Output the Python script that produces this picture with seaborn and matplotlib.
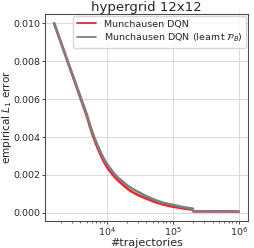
import numpy as np
import pandas as pd
import matplotlib
matplotlib.use("Agg")
import matplotlib.pyplot as plt
import seaborn as sns

title = "hypergrid 12x12"
xlabel = "#trajectories"
ylabel = r"empirical $L_1$ error"
series_names = ["Munchausen DQN", r"Munchausen DQN (learnt $\mathcal{P}_B$)"]
colors = ["#e8292c", "#7f7f7f"]

trajectories = [1600, 5000, 5600, 6200, 7000, 8000, 9000, 10000, 11250, 13000, 15000,
                18000, 21000, 25000, 30000, 40000, 50000, 60000, 75000, 95000,
                140000, 200000, 205000, 300000, 450000, 600000, 800000, 1000000]
err_red = [0.0100, 0.00510, 0.00452, 0.00405, 0.00357, 0.00309, 0.00272, 0.00243,
           0.00219, 0.00192, 0.00169, 0.00145, 0.00125, 0.00108, 0.00093, 0.00075,
           0.00061, 0.00052, 0.00042, 0.00034, 0.00024, 0.00017, 0.00008,
           0.000075, 0.00008, 0.000085, 0.000075, 0.00007]
err_gray = [0.0100, 0.00520, 0.00463, 0.00416, 0.00370, 0.00323, 0.00288, 0.00260,
            0.00236, 0.00207, 0.00184, 0.00161, 0.00142, 0.00125, 0.00110, 0.00088,
            0.00073, 0.00062, 0.00052, 0.00044, 0.00031, 0.00023, 0.00008,
            0.00008, 0.000075, 0.000075, 0.00007, 0.00007]

df = pd.DataFrame({
    "x": trajectories * 2,
    "err": err_red + err_gray,
    "method": [series_names[0]] * len(trajectories) + [series_names[1]] * len(trajectories),
})

sns.set_style("ticks", {"axes.grid": True, "grid.color": ".85", "axes.edgecolor": ".3"})
plt.rcParams["font.family"] = ["DejaVu Sans"]

fig = plt.figure(figsize=(2.55, 2.48), dpi=100)
ax = fig.add_axes([0.176, 0.109, 0.797, 0.835])
sns.lineplot(data=df, x="x", y="err", hue="method", palette=colors,
             hue_order=series_names, linewidth=1.8, ax=ax)
ax.set_xscale("log")
ax.set_title(title, fontsize=9.5, pad=1.5)
ax.set_xlabel(xlabel, fontsize=8, labelpad=0)
ax.set_ylabel(ylabel, fontsize=7.6)
ax.yaxis.set_label_coords(-0.15, 0.5)
ax.set_yticks([0.0, 0.002, 0.004, 0.006, 0.008, 0.010])
ax.set_yticklabels(["0.000", "0.002", "0.004", "0.006", "0.008", "0.010"])
ax.tick_params(axis="both", labelsize=6.8, length=2.5, width=0.6, pad=1)
ax.tick_params(axis="x", which="minor", length=1.5, width=0.5)
for s in ax.spines.values():
    s.set_visible(True)
    s.set_linewidth(0.8)
ax.grid(True, which="major", color=".85", linewidth=0.7)
leg = ax.legend(loc="upper right", fontsize=6.8, frameon=True, borderpad=0.4,
                handlelength=2.0, labelspacing=0.3, borderaxespad=0.2)
for line in leg.get_lines():
    line.set_linewidth(1.3)
fig.savefig("out.png", dpi=100)
